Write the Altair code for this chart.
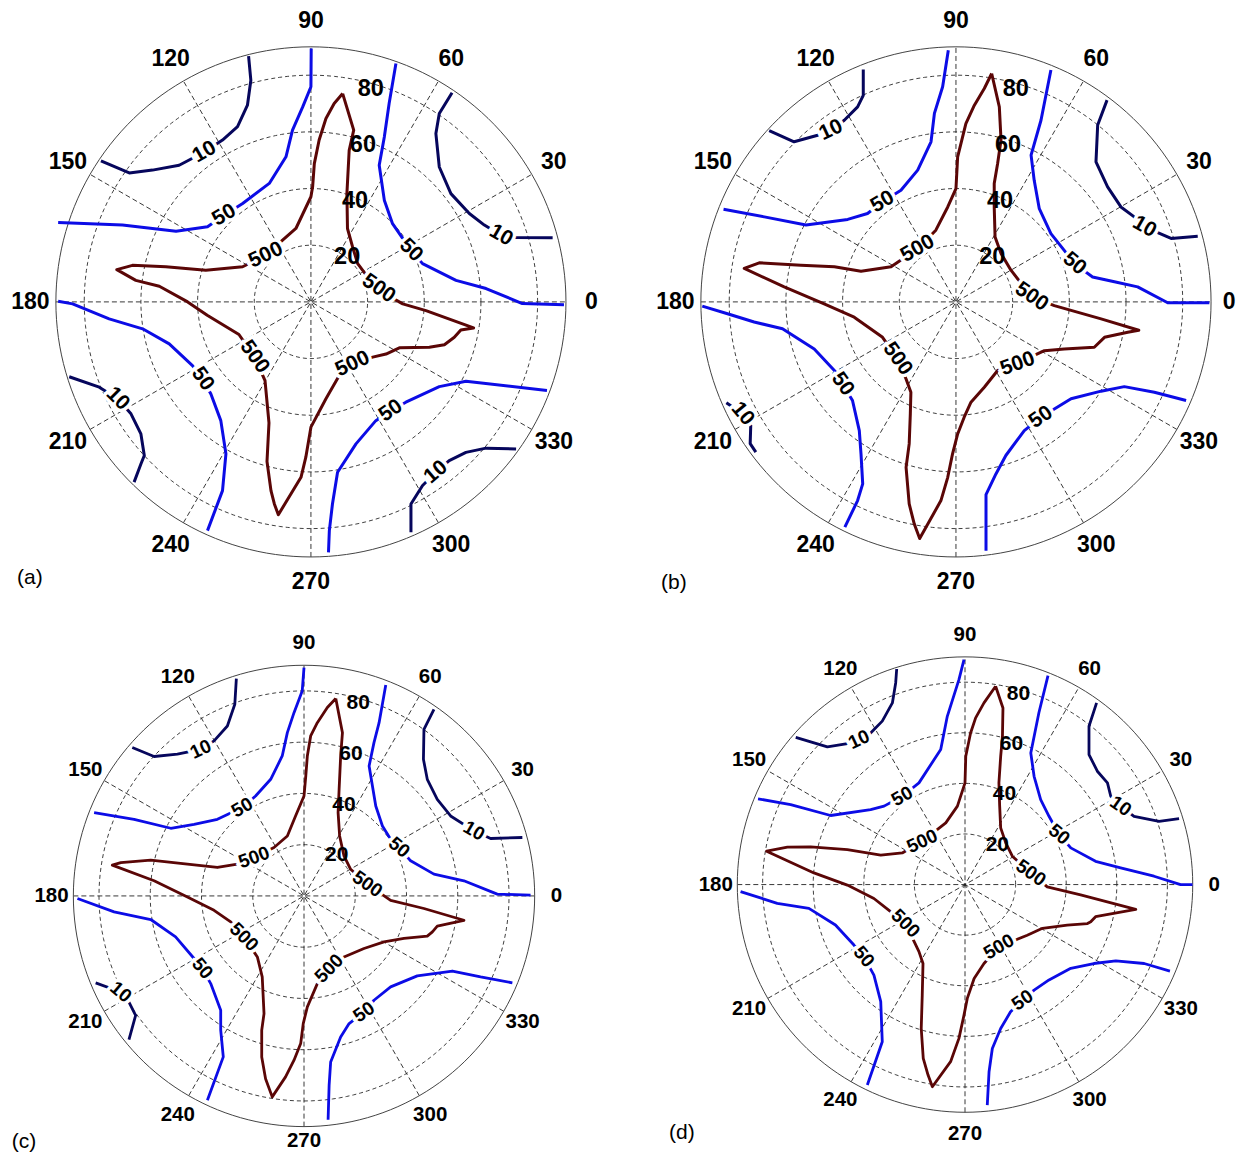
import math
import altair as alt
import pandas as pd

# ---------------- data (polar plot units, x = r cos t, y = r sin t) ----------------
RINGS = [20, 40, 60, 80]
R_MAX = 90
SPOKE_ANGLES = [0, 30, 60, 90, 120, 150]
ANGLE_TICKS = list(range(0, 360, 30))
LEVELS = ["500", "50", "10"]
LEVEL_COLORS = ["#5a0606", "#0c0ce6", "#06065c"]

# ----- panel (a) -----
A_500 = [(11.2, 73.5), (15.1, 60.6), (13.5, 53.5), (12.7, 38.2), (12.9, 25.9), (14.7, 19.4), (16.5, 13.5),
         (20, 8.8), (23.9, 4.7), (28.5, 1.5), (32.4, -0.7), (40.6, -3.1), (57.4, -9.2), (52.9, -9.9),
         (50.6, -12.5), (47.1, -15.1), (41.8, -16), (31.2, -16.2), (26.5, -18.4), (21.8, -19.5),
         (14.7, -21.9), (10, -26), (5.3, -34.2), (0, -44.2), (-1.8, -54.8), (-3.5, -61.9), (-11.5, -75.1),
         (-12.9, -71.3), (-14.1, -66.6), (-15.5, -56.3), (-14.8, -42.7), (-16.2, -27.8), (-19.9, -19.4),
         (-25.4, -11.5), (-36.6, -4.7), (-43.5, 0), (-53.5, 5.5), (-61.8, 7.6), (-68.5, 11.4), (-63, 12.9),
         (-51.2, 12.4), (-37.1, 11.2), (-24.1, 12.4), (-15.9, 16.5), (-10, 21.8), (-5.3, 25.9), (0, 37.1),
         (0.6, 40.6), (1.2, 48.8), (2.9, 57.1), (5.3, 64.7), (8.2, 70), (11.2, 73.5)]
A_50 = [
    [(-89.2, 28), (-66.5, 27.1), (-47.6, 24.9), (-36.5, 26.5), (-30.6, 30.6), (-24.1, 34.7), (-14.7, 41.8),
     (-8.8, 51.2), (-6.5, 60.6), (-2.9, 68.8), (0, 75.9), (0.1, 89.4)],
    [(30, 84.1), (27.6, 70), (25.9, 58.2), (24.1, 48.2), (25.9, 35.9), (28.8, 27.6), (35.3, 18.2), (39.4, 13.5),
     (51.2, 7.6), (61.8, 4.7), (74.6, -0.6), (89.3, -1)],
    [(-89.2, 0.2), (-84.1, -0.7), (-71.2, -6), (-59.4, -9.5), (-50, -14.8), (-41.8, -22.5), (-38.2, -27.2),
     (-35.3, -32.5), (-31.8, -41.9), (-30, -53.6), (-31.2, -66.6), (-36.5, -80.7)],
    [(83.3, -31.3), (54.7, -28), (45.3, -29.9), (33.5, -35.4), (28.2, -38.4), (22.9, -41.9), (15.9, -50.1),
     (9.4, -60.1), (7.6, -71.3), (6.5, -80.7), (6.2, -88.4)],
]
A_10 = [
    [(-74.1, 49.8), (-64.1, 45.5), (-55.9, 46.5), (-46.5, 48.2), (-37.6, 52.9), (-31.2, 57.1), (-25.9, 61.8),
     (-22.4, 69.4), (-21.2, 78.2), (-22, 86.7)],
    [(49.8, 73.8), (45.3, 66.5), (44.1, 59.4), (45.3, 47.6), (49.4, 38.2), (55.9, 31.2), (61.2, 27.1),
     (67.1, 23.5), (72.4, 22.7), (85.3, 22.6)],
    [(-85.3, -26.4), (-74.7, -30.1), (-68.2, -34.2), (-63.5, -39.5), (-60, -46.6), (-58.8, -54.2), (-60, -57.2),
     (-62.4, -63.6)],
    [(72.4, -51.9), (61.8, -51.6), (54.7, -53.1), (48.8, -56), (44.1, -60.1), (39.4, -64.8), (35.3, -71.3),
     (35.3, -81.3)],
]
A_LABELS = [(23.9, 4.7, "500", 35), (14.7, -21.9, "500", 335), (-19.9, -19.4, "500", 55), (-15.9, 16.5, "500", 335),
            (-30.6, 30.6, "50", 330), (35.3, 18.2, "50", 45), (-38.2, -27.2, "50", 55), (28.2, -38.4, "50", 325),
            (-37.6, 52.9, "10", 330), (67.1, 23.5, "10", 30), (-68.2, -34.2, "10", 45), (44.1, -60.1, "10", 320)]

# ----- panel (b) -----
B_500 = [(12.6, 80.6), (15.3, 68.8), (15.9, 57.1), (14.7, 48.8), (13.5, 41.8), (13.5, 33.5), (13.8, 22.9),
         (15.9, 17.1), (19.4, 11.2), (26.7, 1.8), (34.7, -1.3), (51.2, -6), (64.5, -10), (60.6, -10.7),
         (52.4, -12.5), (48.8, -16), (38.2, -16.6), (31.2, -17.2), (27.6, -18.9), (21.8, -21.9), (14.7, -24.2),
         (10, -30.1), (5.3, -35.4), (2.9, -40.7), (0.6, -46.6), (-1.2, -53.6), (-2.9, -61.9), (-5.3, -70.1),
         (-12.8, -83.5), (-14.7, -78.4), (-16.5, -71.3), (-17.6, -58.4), (-16.5, -50.1), (-16.1, -39.5),
         (-15.9, -31.9), (-17.6, -27.2), (-20.6, -20.1), (-25.9, -12.5), (-35.9, -5.4), (-46.5, -0.7),
         (-60.6, 5.3), (-74.7, 11.8), (-69.4, 13.8), (-54.7, 12.9), (-42.9, 12.4), (-33.5, 10.8), (-22.9, 12.4),
         (-13.5, 18.8), (-7.1, 25.3), (-2.9, 33.5), (0, 40), (0.6, 51.2), (3.5, 62.9), (6.5, 69.4), (10, 75.3),
         (12.6, 80.6)]
B_50 = [
    [(-82, 32.7), (-67.6, 30), (-52.9, 27.1), (-38.2, 29.1), (-31.2, 31.2), (-25.9, 35.3), (-19.4, 39.4),
     (-13.5, 46.5), (-8.8, 56.5), (-7.6, 66.5), (-4.7, 75.9), (-2.7, 88.8)],
    [(33.5, 81.8), (30, 64.1), (26.5, 51.8), (27.6, 42.9), (29.4, 32.9), (33.5, 24.1), (38.2, 18.2), (41.8, 13.5),
     (48.2, 8.8), (55.9, 7.1), (64.1, 5.3), (74.7, -0.3), (89.4, -0.3)],
    [(-89.5, -1.5), (-80.6, -4.2), (-71.2, -7.1), (-61.2, -9.5), (-50, -16.6), (-42.9, -24.2), (-40, -29),
     (-36.5, -34.8), (-34.1, -45.4), (-33.5, -53.6), (-32.9, -64.2), (-34.7, -70.1), (-39.2, -79.5)],
    [(81.2, -34.8), (70, -31.9), (59.4, -29.9), (51.2, -31.5), (40.6, -34.2), (34.7, -37.8), (30, -40.7),
     (24.1, -45.4), (17.6, -54.2), (14.1, -60.7), (10.6, -68), (10.6, -87.8)],
]
B_10 = [
    [(-65.9, 60.4), (-57.1, 56.5), (-48.8, 58.8), (-44.1, 60.6), (-39.4, 64.1), (-34.7, 68.8), (-32.7, 72.9),
     (-32.7, 82)],
    [(53.3, 71.2), (50, 62.4), (49.4, 49.4), (53.5, 40.6), (58.2, 33.5), (62.9, 30), (66.5, 26.5), (75.9, 22.4),
     (85.3, 23.2)],
    [(-81, -35.6), (-75.3, -39.5), (-72.4, -43.6), (-72.6, -50), (-70.6, -53)],
]
B_LABELS = [(26.7, 1.8, "500", 35), (21.8, -21.9, "500", 340), (-20.6, -20.1, "500", 55), (-13.5, 18.8, "500", 330),
            (-25.9, 35.3, "50", 330), (41.8, 13.5, "50", 40), (-40, -29, "50", 55), (30, -40.7, "50", 325),
            (-44.1, 60.6, "10", 335), (66.5, 26.5, "10", 30), (-75.3, -39.5, "10", 50)]

# ----- panel (c) -----
C_500 = [(12.4, 77), (15, 63.7), (14.3, 54.6), (13.7, 41.6), (13.3, 32.5), (13.9, 23.4), (15.6, 15.6), (18.2, 10.4),
         (24.7, 4.6), (33.8, -1.7), (46.8, -4.9), (62.4, -9.5), (52, -11.8), (50.1, -14), (48.1, -15.7), (39, -16.6),
         (31.2, -17.9), (23.4, -20.5), (15.6, -23.8), (9.8, -28.3), (5.2, -34.2), (1.3, -43.3), (-0.3, -49.8),
         (-1.3, -57.6), (-3.9, -64.1), (-7.2, -70.6), (-12.4, -78.4), (-15, -71.3), (-16.5, -62.8), (-16.5, -52.4),
         (-15.6, -45.9), (-16.3, -31.6), (-18.2, -23.8), (-23.4, -16), (-28.6, -10.1), (-35.1, -5.6),
         (-45.5, -0.4), (-58.5, 5.9), (-74.8, 12), (-71.5, 13), (-59.8, 14), (-45.5, 12.4), (-33.8, 11.1),
         (-26, 12.4), (-19.5, 15), (-11.7, 18.9), (-6.5, 23.4), (-3.3, 31.2), (0, 39), (0.7, 46.8), (1.3, 54.6),
         (2.6, 62.4), (5.2, 67.6), (9.1, 73.5), (12.4, 77)]
C_50 = [
    [(-81.9, 32.5), (-66.3, 29.9), (-52, 26.4), (-42.9, 27.9), (-33.8, 29.9), (-24.1, 34.5), (-18.9, 39),
     (-13, 45.5), (-8.5, 54.6), (-6.5, 63.7), (-3.9, 71.5), (-0.7, 80), (0, 89.1)],
    [(31.9, 82.3), (29.3, 67.6), (27.3, 59.8), (25.4, 50.7), (26.7, 42.9), (28, 35.1), (30.6, 27.3), (33.8, 22.1),
     (37.1, 18.9), (41.6, 13.7), (50.7, 8.5), (62.4, 5.9), (75.4, 0.7), (88.4, 0.3)],
    [(-88.4, -1), (-74.1, -6.2), (-59.8, -9.2), (-50.1, -16), (-42.9, -24.4), (-39.7, -28.3), (-36.4, -34.2),
     (-32.5, -44.6), (-32.5, -52.4), (-31.5, -62.8), (-37.7, -79.7)],
    [(81.3, -33.9), (68.9, -31.6), (57.9, -29.3), (44.2, -31.2), (33.8, -35.5), (27.3, -40.7), (23.4, -45.3),
     (17.6, -49.8), (14.3, -55), (10.4, -64.8), (9.8, -73.9), (9.4, -87.3)],
]
C_10 = [
    [(-67, 57.9), (-58.5, 54.4), (-49.4, 55.3), (-40.3, 57.2), (-35.1, 60.5), (-29.9, 66.3), (-27, 74.8),
     (-26.4, 84.8)],
    [(50.7, 72.8), (46.8, 65), (46.6, 53.3), (48.1, 45.5), (52, 37.7), (57.2, 31.2), (66.3, 25.4), (72.8, 22.4),
     (85.2, 22.8)],
    [(-81.3, -33.9), (-71.5, -37.5), (-68.3, -41.4), (-65.7, -46.6), (-68.3, -56.1)],
]
C_LABELS = [(24.7, 4.6, "500", 35), (9.8, -28.3, "500", 315), (-23.4, -16, "500", 45), (-19.5, 15, "500", 340),
            (-24.1, 34.5, "50", 330), (37.1, 18.9, "50", 40), (-39.7, -28.3, "50", 50), (23.4, -45.3, "50", 325),
            (-40.3, 57.2, "10", 335), (66.3, 25.4, "10", 30), (-71.5, -37.5, "10", 40)]

# ----- panel (d) -----
D_500 = [(12.1, 78.4), (15, 69.8), (14.8, 58.6), (14.1, 50.7), (13.4, 40.2), (13.7, 31), (14.1, 22.4), (16.1, 16.5),
         (18.7, 11.2), (26, 4.6), (32.5, -0.9), (45.7, -4.1), (67.5, -9.8), (51.6, -12.7), (49.7, -14.7),
         (48.4, -15.4), (40.4, -16), (30.6, -17.3), (24.6, -20), (13.4, -24.6), (7.5, -31.2), (3.6, -37.1),
         (0.9, -45), (-0.4, -51.6), (-2.4, -60.8), (-5.7, -70), (-12.9, -79.9), (-14.6, -75.3), (-16.5, -68.7),
         (-17.3, -56.9), (-16.9, -43.7), (-16.6, -31.2), (-18.2, -26.5), (-23.5, -15.4), (-29.4, -10.7),
         (-36, -5.5), (-46.5, -0.2), (-59.7, 4.6), (-78.4, 13.2), (-70.2, 14.8), (-61, 14.9), (-46.5, 13.8),
         (-33.3, 11.6), (-24.8, 12.5), (-16.9, 17.1), (-7.6, 24.4), (-3, 31), (0, 40.2), (0.3, 50.7), (2.2, 59.9),
         (4.2, 65.9), (7.5, 71.8), (12.1, 78.4)]
D_50 = [
    [(-81.8, 33.9), (-68.9, 31.6), (-53.1, 27.3), (-37.3, 29.6), (-32, 31), (-24.8, 34.9), (-18.2, 40.2),
     (-9.6, 53.4), (-7, 66.5), (-2.4, 81), (-0.4, 88.9)],
    [(32.8, 82.6), (29.2, 67.9), (26, 52), (27.3, 42.8), (29.9, 33.6), (33.2, 27), (37.2, 19.8), (41.8, 14.5),
     (51.6, 9.2), (61.5, 6.6), (74.7, 3.3), (85.2, 0), (89.9, 0)],
    [(-88.7, -2.8), (-74.2, -7.4), (-61.7, -9.4), (-51.2, -16), (-43.9, -23.9), (-40, -28.5), (-36, -35.8),
     (-33.3, -46.3), (-32.7, -62.1), (-38.6, -79.2)],
    [(81, -34.2), (70.8, -31.2), (59.6, -30.2), (50.9, -31.2), (41.8, -33.1), (33.2, -37.7), (27.3, -41.7),
     (22.7, -45.7), (18, -50.3), (14.1, -56.9), (10.8, -64.8), (9.5, -74), (8.8, -87.2)],
]
D_10 = [
    [(-66.9, 58.2), (-54.4, 54.4), (-46.5, 55.7), (-41.9, 57.3), (-37.3, 59.9), (-32.7, 64.6), (-28.7, 71.8),
     (-27.4, 79.7), (-27, 85.2)],
    [(52, 71.8), (49, 62.6), (49, 51.4), (52.3, 44.8), (56.3, 40.2), (57.6, 34.9), (61.5, 31), (66.8, 27),
     (76.7, 25), (84.6, 26.1)],
]
D_LABELS = [(26, 4.6, "500", 35), (13.4, -24.6, "500", 330), (-23.5, -15.4, "500", 45), (-16.9, 17.1, "500", 335),
            (-24.8, 34.9, "50", 330), (37.2, 19.8, "50", 40), (-40, -28.5, "50", 50), (22.7, -45.7, "50", 325),
            (-41.9, 57.3, "10", 335), (61.5, 31, "10", 35)]

# ---------------- layout (not data) ----------------
# cells: columns 622 + 606 px, rows 596 + 549 px; domains chosen so each polar centre sits where it is in the figure
PANELS = [
    dict(letter="(a)", w=622, h=596, xdom=[-106.9, 112.6], ydom=[-106.6, 103.7], letter_xy=(-99.2, -97.4),
         tick_r=99.0, tick_over={}, fs_tick=23, fs_r=23.5, fs_c=21, lw=3.0, data=(A_500, A_50, A_10, A_LABELS)),
    dict(letter="(b)", w=606, h=596, xdom=[-115.0, 98.8], ydom=[-106.6, 103.7], letter_xy=(-99.5, -99.2),
         tick_r=99.0, tick_over={0: 96.4}, fs_tick=23, fs_r=23.5, fs_c=21, lw=3.0, data=(B_500, B_50, B_10, B_LABELS)),
    dict(letter="(c)", w=622, h=549, xdom=[-115.5, 127.2], ydom=[-100.3, 113.9], letter_xy=(-109.3, -96.0),
         tick_r=98.5, tick_over={270: 95.8}, fs_tick=20.5, fs_r=21, fs_c=19, lw=2.8, data=(C_500, C_50, C_10, C_LABELS)),
    dict(letter="(d)", w=606, h=549, xdom=[-132.4, 107.1], ydom=[-106.1, 110.9], letter_xy=(-111.9, -98.2),
         tick_r=98.5, tick_over={}, fs_tick=20.5, fs_r=21, fs_c=19, lw=2.8, data=(D_500, D_50, D_10, D_LABELS)),
]
FONT = "Liberation Sans"


def rad(d):
    return math.radians(d)


circle_df = pd.DataFrame([dict(r=r, t=t, x=r * math.cos(rad(t)), y=r * math.sin(rad(t)))
                          for r in RINGS + [R_MAX] for t in range(0, 361, 2)])
spoke_df = pd.DataFrame([dict(x=-R_MAX * math.cos(rad(a)), y=-R_MAX * math.sin(rad(a)),
                              x2=R_MAX * math.cos(rad(a)), y2=R_MAX * math.sin(rad(a))) for a in SPOKE_ANGLES])
rlab_df = pd.DataFrame([dict(text=str(r), x=r * math.cos(rad(82)) + 10, y=r * math.sin(rad(82)) - 4)
                        for r in RINGS])


def tick_frame(cfg):
    rows = []
    for a in ANGLE_TICKS:
        r = cfg["tick_over"].get(a, cfg["tick_r"])
        rows.append(dict(text=str(a), x=r * math.cos(rad(a)), y=r * math.sin(rad(a))))
    return pd.DataFrame(rows)


def contour_df(c500, c50, c10):
    rows = []
    for level, segs in (("500", [c500]), ("50", c50), ("10", c10)):
        for si, seg in enumerate(segs):
            for i, (x, y) in enumerate(seg):
                rows.append(dict(level=level, seg=f"{level}-{si}", i=i, x=x, y=y))
    return pd.DataFrame(rows)


def panel(cfg):
    c500, c50, c10, labels = cfg["data"]
    X = alt.X("x:Q", scale=alt.Scale(domain=cfg["xdom"], nice=False, zero=False), axis=None)
    Y = alt.Y("y:Q", scale=alt.Scale(domain=cfg["ydom"], nice=False, zero=False), axis=None)

    rings = alt.Chart(circle_df).transform_filter(alt.datum.r < R_MAX).mark_line(
        color="#2a2a2a", strokeWidth=0.9, strokeDash=[4, 3]).encode(
        x=X, y=Y, detail="r:N", order=alt.Order("t:Q"))
    outer = alt.Chart(circle_df).transform_filter(alt.datum.r == R_MAX).mark_line(
        color="#444444", strokeWidth=1.0).encode(x=X, y=Y, detail="r:N", order=alt.Order("t:Q"))
    spokes = alt.Chart(spoke_df).mark_rule(color="#222222", strokeWidth=0.9, strokeDash=[5, 3]).encode(
        x=X, y=Y, x2="x2:Q", y2="y2:Q")
    lines = alt.Chart(contour_df(c500, c50, c10)).mark_line(strokeWidth=cfg["lw"], strokeJoin="round").encode(
        x=X, y=Y, detail="seg:N", order=alt.Order("i:Q"),
        color=alt.Color("level:N", scale=alt.Scale(domain=LEVELS, range=LEVEL_COLORS), legend=None))
    ldf = pd.DataFrame(labels, columns=["x", "y", "text", "angle"])
    halo = alt.Chart(ldf).mark_text(font=FONT, fontSize=cfg["fs_c"], fontWeight="bold", color="white",
                                    stroke="white", strokeWidth=7, baseline="middle", align="center").encode(
        x=X, y=Y, text="text:N", angle=alt.Angle("angle:Q", scale=None))
    ltext = alt.Chart(ldf).mark_text(font=FONT, fontSize=cfg["fs_c"], fontWeight="bold", color="black",
                                     baseline="middle", align="center").encode(
        x=X, y=Y, text="text:N", angle=alt.Angle("angle:Q", scale=None))
    ticks = alt.Chart(tick_frame(cfg)).mark_text(font=FONT, fontSize=cfg["fs_tick"], fontWeight="bold",
                                                 color="black", baseline="middle", align="center",
                                                 clip=True).encode(x=X, y=Y, text="text:N")
    rlabs = alt.Chart(rlab_df).mark_text(font=FONT, fontSize=cfg["fs_r"], fontWeight="bold", color="black",
                                         baseline="middle", align="center").encode(x=X, y=Y, text="text:N")
    let_df = pd.DataFrame([dict(x=cfg["letter_xy"][0], y=cfg["letter_xy"][1], text=cfg["letter"])])
    letter = alt.Chart(let_df).mark_text(font=FONT, fontSize=21, color="black", baseline="middle",
                                         align="center", clip=True).encode(x=X, y=Y, text="text:N")
    return alt.layer(rings, spokes, outer, lines, halo, ltext, ticks, rlabs, letter).properties(
        width=cfg["w"], height=cfg["h"])


pa, pb, pc, pd_ = [panel(c) for c in PANELS]
chart = alt.concat(pa, pb, pc, pd_, columns=2, spacing=0, bounds="flush").resolve_scale(
    x="independent", y="independent").properties(padding=0).configure_view(stroke=None)

chart.save("out.html", embed_options={"renderer": "svg", "actions": False})
